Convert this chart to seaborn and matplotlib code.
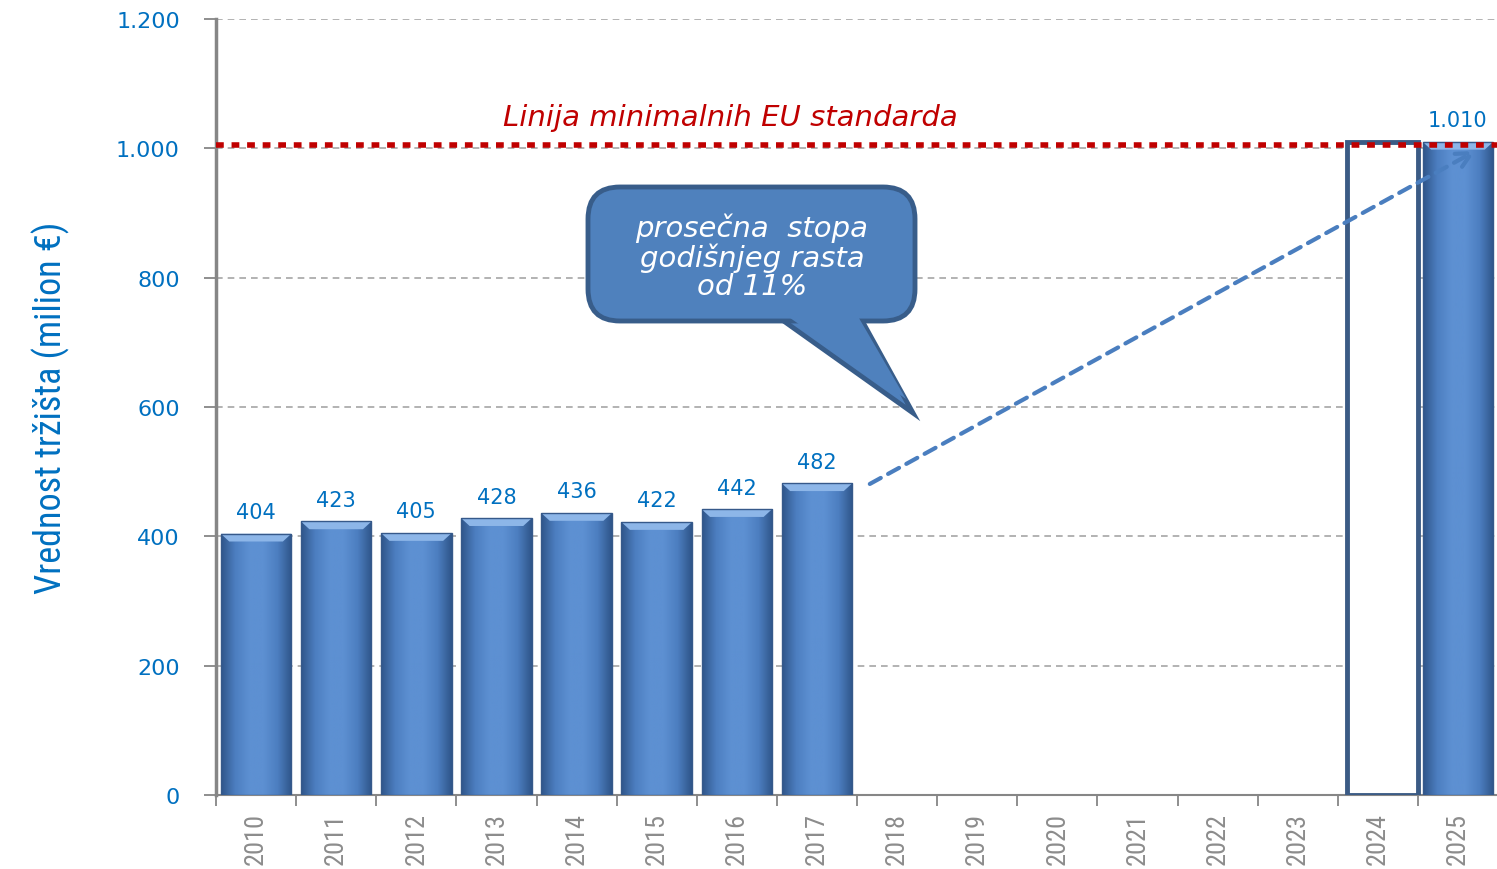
import numpy as np
import pandas as pd
import matplotlib
matplotlib.use("Agg")
import matplotlib.pyplot as plt
import seaborn as sns
from matplotlib import font_manager as fm
from matplotlib.patches import FancyBboxPatch, Polygon, Rectangle
from matplotlib.transforms import Affine2D
from matplotlib.colors import LinearSegmentedColormap

# ---------------- data ----------------
years = [str(y) for y in range(2010, 2026)]
hist_years = ["2010", "2011", "2012", "2013", "2014", "2015", "2016", "2017"]
hist_values = [404, 423, 405, 428, 436, 422, 442, 482]
target_year_outline = "2024"
target_year = "2025"
target_value = 1010
eu_standard = 1005
y_ticks = [0, 200, 400, 600, 800, 1000, 1200]
eu_label = "Linija minimalnih EU standarda"
callout_text = "prosečna  stopa\ngodišnjeg rasta\nod 11%"
y_label = "Vrednost tržišta (milion €)"

# ---------------- fonts ----------------
avail = {f.name for f in fm.fontManager.ttflist}
narrow = next((f for f in ["Liberation Sans Narrow", "DejaVu Sans Condensed", "Roboto Condensed"] if f in avail), "DejaVu Sans")

sns.set_theme(style="white")
plt.rcParams["font.family"] = ["DejaVu Sans"]

W, H = 1497, 870
fig = plt.figure(figsize=(W / 100, H / 100), dpi=100)
L, R, B, T = 216, 1498, 796, 20
ax = fig.add_axes([L / W, 1 - B / H, (R - L) / W, (B - T) / H])

df = pd.DataFrame({"year": hist_years + [target_year], "value": hist_values + [target_value]})
sns.barplot(data=df, x="year", y="value", order=years, color="#5A8ACB", width=0.88,
            linewidth=0, saturation=1, ax=ax, zorder=3)

ax.set_xlim(-0.5, len(years) - 0.5)
ax.set_ylim(0, 1200)

# gradient fill for bars (3D look)
cmap = LinearSegmentedColormap.from_list("bar", ["#2F5589", "#4C7EC0", "#5D90D2", "#5D90D2", "#4C7EC0", "#2F5589"])
grad = np.linspace(0, 1, 256).reshape(1, -1)
for p in ax.patches:
    x0, w, h = p.get_x(), p.get_width(), p.get_height()
    p.set_facecolor("#5A8ACB")
    im = ax.imshow(grad, cmap=cmap, aspect="auto", extent=[x0, x0 + w, 0, h], zorder=3.5)
    im.set_clip_path(p)
    # top bevel
    ax.add_patch(Polygon([[x0, h], [x0 + w, h], [x0 + w * 0.88, h - 12], [x0 + w * 0.12, h - 12]],
                         closed=True, facecolor="#8DB6E8", edgecolor="none", zorder=3.8))
    ax.add_patch(Rectangle((x0, 0), w, h, facecolor="none", edgecolor="#36598A", lw=1.0, zorder=3.9))

# outline bar for 2024
i24 = years.index(target_year_outline)
ax.bar(i24 + 0.06, target_value, width=0.88, facecolor="white", edgecolor="#3B5B85", linewidth=3.5, zorder=3)

# value labels
label_years = hist_years + [target_year]
label_vals = hist_values + [target_value]
for yr, v in zip(label_years, label_vals):
    txt = f"{v:,}".replace(",", ".")
    ax.text(years.index(yr), v + 18, txt, ha="center", va="bottom", color="#0070C0",
            fontsize=15, zorder=10)

# grid and axes styling
for yt in y_ticks[1:]:
    ax.axhline(yt, color="#A6A6A6", lw=1.2, ls=(0, (4, 3)), zorder=1)
ax.set_yticks(y_ticks)
ax.set_yticklabels([f"{t:,}".replace(",", ".") for t in y_ticks], color="#0070C0", fontsize=16)
ax.tick_params(axis="y", length=9, width=1.3, color="#868686", pad=17, left=True)
ax.set_xticks(range(len(years)))
ax.set_xticklabels(years, rotation=90, color="#8C8C8C", fontsize=19, family=narrow)
ax.tick_params(axis="x", which="major", length=0, pad=12)
ax.set_xticks(np.arange(-0.5, len(years), 1), minor=True)
ax.tick_params(axis="x", which="minor", length=8, width=1.3, color="#868686", bottom=True)
for s in ["top", "right"]:
    ax.spines[s].set_visible(False)
ax.spines["left"].set_color("#868686")
ax.spines["left"].set_linewidth(2.5)
ax.spines["bottom"].set_color("#868686")
ax.spines["bottom"].set_linewidth(1.5)
ax.set_xlabel("")
ax.set_ylabel(y_label, color="#0070C0", fontsize=26, family=narrow, labelpad=33)

# EU standard line
ax.axhline(eu_standard, color="#C00000", lw=4, ls=(0, (1.4, 1.4)), zorder=6)
ax.text(5.92, eu_standard + 22, eu_label, color="#C00000", fontsize=21, style="italic",
        ha="center", va="bottom", zorder=10)

# dashed growth arrow
ax.annotate("", xy=(15.22, 996), xytext=(7.66, 481),
            arrowprops=dict(arrowstyle="->,head_length=0.9,head_width=0.45", color="#4A7EBF",
                            lw=3, ls=(0, (3, 2)), shrinkA=0, shrinkB=0), zorder=7)

# callout bubble (pixel-based transform: x from left, y from top of figure)
pt = Affine2D().translate(-L, -B).scale(1 / (R - L), -1 / (B - T)) + ax.transAxes
fc, ec = "#4F81BD", "#385D8A"
tail = [[778, 318], [860, 318], [913, 414]]
ax.add_patch(Polygon(tail, closed=True, facecolor=fc, edgecolor=ec, lw=3.5, transform=pt, zorder=8, clip_on=False))
ax.add_patch(FancyBboxPatch((595, 195), 313, 120, boxstyle="round,pad=7,rounding_size=32",
                            facecolor=fc, edgecolor=ec, lw=3.5, transform=pt, zorder=8.5, clip_on=False))
ax.add_patch(Polygon([[783, 314], [856, 314], [906, 400]], closed=True, facecolor=fc, edgecolor="none",
                     transform=pt, zorder=8.7, clip_on=False))
ax.text(752, 257, callout_text, color="white", fontsize=21, style="italic", ha="center", va="center",
        linespacing=1.02, transform=pt, zorder=9)

fig.savefig("out.png", dpi=100)
